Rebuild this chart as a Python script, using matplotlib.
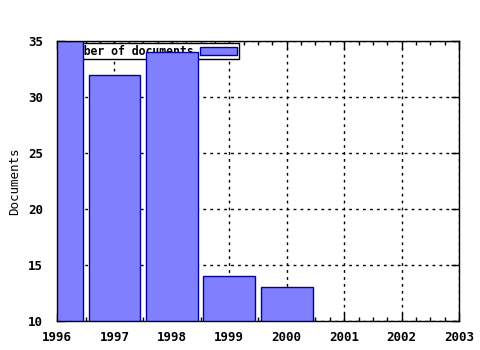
import matplotlib
matplotlib.use("Agg")
import matplotlib.pyplot as plt
from matplotlib.ticker import MultipleLocator

# data
years = [1996, 1997, 1998, 1999, 2000]
docs = [35, 32, 34, 14, 13]
xticks = [1996, 1997, 1998, 1999, 2000, 2001, 2002, 2003]
yticks = [10, 15, 20, 25, 30, 35]

plt.rcParams['font.family'] = 'DejaVu Sans Mono'
plt.rcParams['font.weight'] = 'bold'
plt.rcParams['font.size'] = 9

fig = plt.figure(figsize=(4.8, 3.5), dpi=100)
ax = fig.add_axes([57/480, 29/350, 402/480, 280/350])

ax.bar(years, docs, width=0.9, color='#8080ff', edgecolor='#0000a0',
       linewidth=1, label='Number of documents', zorder=6)

ax.set_xlim(1996, 2003)
ax.set_ylim(10, 35)
ax.set_xticks(xticks)
ax.set_yticks(yticks)
ax.xaxis.set_minor_locator(MultipleLocator(0.25))
ax.tick_params(which='major', direction='in', length=6, top=True, right=True, width=1)
ax.tick_params(which='minor', direction='in', length=3, top=True, right=False, width=1)
ax.tick_params(axis='y', which='minor', left=False, right=False)
ax.tick_params(axis='y', which='major', pad=10)
ax.tick_params(axis='x', which='major', pad=7)
ax.grid(True, which='major', color='black', linestyle=(0, (2, 3)), linewidth=1, zorder=0)
ax.set_axisbelow(True)
for s in ax.spines.values():
    s.set_linewidth(1)
    s.set_zorder(10)

ax.set_ylabel('Documents', labelpad=5)

leg = ax.legend(loc='upper left', bbox_to_anchor=(0.01, 0.993), markerfirst=False,
                frameon=True, fancybox=False, framealpha=1, edgecolor='black',
                handlelength=3.2, handleheight=0.7, borderpad=0.15,
                borderaxespad=0, handletextpad=0.6, prop={'size': 8.3, 'weight': 'bold'})
leg.get_frame().set_linewidth(1)
leg.set_zorder(5)

fig.savefig('out.png', dpi=100)
